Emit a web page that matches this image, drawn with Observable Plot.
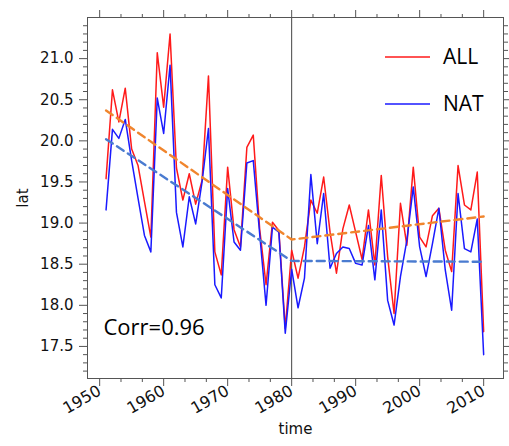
<!DOCTYPE html>
<html><head><meta charset="utf-8">
<script src="https://cdn.jsdelivr.net/npm/d3@7"></script>
<script src="https://cdn.jsdelivr.net/npm/@observablehq/plot@0.6"></script>
<style>html,body{margin:0;padding:0;background:#fff}</style>
</head><body><div id="chart"></div>
<script>
const years = [1951,1952,1953,1954,1955,1956,1957,1958,1959,1960,
  1961,1962,1963,1964,1965,1966,1967,1968,1969,1970,
  1971,1972,1973,1974,1975,1976,1977,1978,1979,1980,
  1981,1982,1983,1984,1985,1986,1987,1988,1989,1990,
  1991,1992,1993,1994,1995,1996,1997,1998,1999,2000,
  2001,2002,2003,2004,2005,2006,2007,2008,2009,2010];
const allValues = [19.54,20.62,20.23,20.64,19.90,19.70,19.26,18.83,21.07,20.41,
  21.30,19.67,19.28,19.60,19.23,19.52,20.79,18.65,18.37,19.68,
  18.92,18.71,19.92,20.07,18.93,18.25,19.01,18.91,17.72,18.67,
  18.33,18.71,19.28,19.12,19.56,18.89,18.39,18.93,19.22,18.89,
  18.56,19.16,18.49,19.58,18.59,17.90,19.24,18.73,19.68,18.83,
  18.71,19.09,19.18,18.67,18.41,19.70,19.22,19.16,19.62,17.68];
const natValues = [19.16,20.14,20.03,20.26,19.76,19.30,18.85,18.65,20.52,20.09,
  20.92,19.13,18.71,19.32,18.99,19.50,20.15,18.25,18.09,19.42,
  18.77,18.67,19.73,19.76,18.87,18.00,18.95,18.89,17.66,18.44,
  17.97,18.33,19.59,18.75,19.36,18.45,18.63,18.71,18.69,18.51,
  18.49,18.97,18.31,19.16,18.06,17.76,18.35,18.79,19.44,18.71,
  18.35,18.75,19.18,18.43,17.94,19.36,18.69,18.65,19.05,17.40];
const trendYears = [1951, 1980, 2010];
const trendAll = [20.37, 18.80, 19.08];
const trendNat = [20.02, 18.54, 18.53];
const splitYear = [1980];
const seriesNames = ["ALL", "NAT"];
const seriesColors = ["#ff1a1a", "#1a1aff"];
const corrText = "Corr=0.96";
const xMajor = [1950,1960,1970,1980,1990,2000,2010];
const xMinor = [1953.333,1956.667,1963.333,1966.667,1973.333,1976.667,1983.333,1986.667,1993.333,1996.667,2003.333,2006.667];
const yMajor = [17.5,18.0,18.5,19.0,19.5,20.0,20.5,21.0];
const yMinor = [17.2,17.3,17.4,17.6,17.7,17.8,17.9,18.1,18.2,18.3,18.4,18.6,18.7,18.8,18.9,19.1,19.2,19.3,19.4,19.6,19.7,19.8,19.9,20.1,20.2,20.3,20.4,20.6,20.7,20.8,20.9,21.1,21.2,21.3,21.4];

const allData = years.map((y,i) => ({year:y, v:allValues[i]}));
const natData = years.map((y,i) => ({year:y, v:natValues[i]}));
const tAll = trendYears.map((y,i) => ({year:y, v:trendAll[i]}));
const tNat = trendYears.map((y,i) => ({year:y, v:trendNat[i]}));

const axisColor = "#555";
const fmtY = d => d.toFixed(1);

function legendMark(index, scales, values, dims) {
  const g = d3.create("svg:g");
  const right = dims.width - dims.marginRight;
  seriesNames.forEach((name, i) => {
    const y = dims.marginTop + 40 + i * 47;
    g.append("line").attr("x1", right - 118).attr("x2", right - 73)
      .attr("y1", y).attr("y2", y).attr("stroke", seriesColors[i]).attr("stroke-width", 1.6);
    g.append("text").attr("x", right - 60).attr("y", y).attr("dy", "0.35em")
      .attr("text-anchor", "start")
      .attr("font-family", "Open Sans").attr("font-size", 21).attr("fill", "#000").text(name);
  });
  return g.node();
}

const chart = Plot.plot({
  width: 509, height: 446,
  marginLeft: 87, marginRight: 6, marginTop: 17, marginBottom: 68,
  style: {fontFamily: "DejaVu Sans", fontSize: "15px", background: "#fff", color: "#111"},
  x: {domain: [1948.1, 2013.1]},
  y: {domain: [17.11, 21.5]},
  marks: [
    Plot.ruleX(splitYear, {stroke: "#444", strokeWidth: 1}),
    Plot.line(allData, {x: "year", y: "v", stroke: seriesColors[0], strokeWidth: 1.5}),
    Plot.line(natData, {x: "year", y: "v", stroke: seriesColors[1], strokeWidth: 1.5}),
    Plot.line(tAll, {x: "year", y: "v", stroke: "#f0852d", strokeWidth: 2.4, strokeDasharray: "8,5"}),
    Plot.line(tNat, {x: "year", y: "v", stroke: "#4a7bd0", strokeWidth: 2.4, strokeDasharray: "8,5"}),
    Plot.text([corrText], {text: d => d, frameAnchor: "bottom-left", dx: 16, dy: -51, lineAnchor: "middle", textAnchor: "start", fontFamily: "Open Sans", fontSize: 22, fill: "#000"}),
    legendMark,
    Plot.frame({stroke: axisColor}),
    Plot.axisX({anchor: "bottom", ticks: xMajor, tickSize: 8, tickPadding: 3, tickRotate: -30, tickFormat: d => String(d), stroke: axisColor, fill: "#111", fontSize: 16, label: null}),
    Plot.axisX({anchor: "bottom", ticks: xMajor, tickSize: 0, tickFormat: () => "", label: "time", labelAnchor: "center", labelOffset: 55, labelArrow: "none", fill: "#111", fontSize: 15}),
    Plot.axisX({anchor: "bottom", ticks: xMinor, tickSize: 4, tickFormat: () => "", stroke: axisColor, label: null}),
    Plot.axisX({anchor: "top", ticks: xMajor, tickSize: 8, tickFormat: () => "", stroke: axisColor, label: null}),
    Plot.axisX({anchor: "top", ticks: xMinor, tickSize: 4, tickFormat: () => "", stroke: axisColor, label: null}),
    Plot.axisY({anchor: "left", ticks: yMajor, tickSize: 8, tickPadding: 6, tickFormat: fmtY, stroke: axisColor, fill: "#111", label: "lat", labelAnchor: "center", labelOffset: 70, labelArrow: "none"}),
    Plot.axisY({anchor: "left", ticks: yMinor, tickSize: 4, tickFormat: () => "", stroke: axisColor, label: null}),
    Plot.axisY({anchor: "right", ticks: yMajor, tickSize: 8, tickFormat: () => "", stroke: axisColor, label: null}),
    Plot.axisY({anchor: "right", ticks: yMinor, tickSize: 4, tickFormat: () => "", stroke: axisColor, label: null})
  ]
});
document.getElementById("chart").appendChild(chart);
</script>
</body></html>
